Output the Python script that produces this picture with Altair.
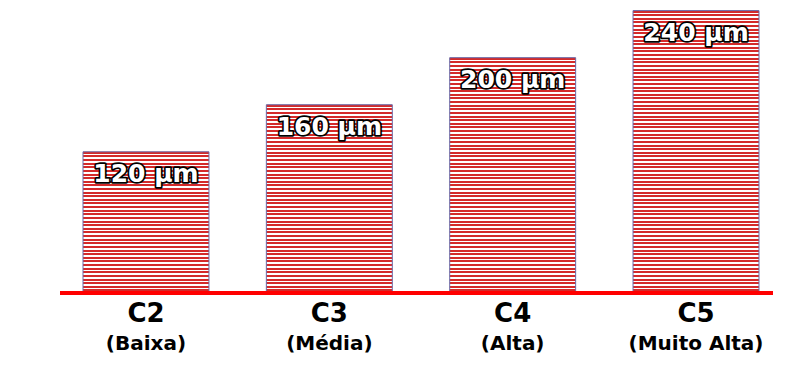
import altair as alt
import pandas as pd

categories = ["C2", "C3", "C4", "C5"]
subtitles = ["(Baixa)", "(Média)", "(Alta)", "(Muito Alta)"]
values = [120, 160, 200, 240]
value_labels = ["120 µm", "160 µm", "200 µm", "240 µm"]

df = pd.DataFrame({"cat": categories, "sub": subtitles, "val": values, "lab": value_labels})

W, H = 722, 293
YMAX = 249
FONT = "DejaVu Sans"
STRIPE_RED = "#d42a2a"
PERIOD = 3.6

xscale = alt.Scale(domain=categories, paddingInner=0.313, paddingOuter=0.1255)
yscale = alt.Scale(domain=[0, YMAX], nice=False, zero=True)
X = alt.X("cat:N", scale=xscale, axis=None)
Y = alt.Y("val:Q", scale=yscale, axis=None)


def stripes(px_height):
    n = max(1, round(px_height / PERIOD))
    stops = []
    for i in range(n):
        a = i / n
        b = (i + 0.55) / n
        c = (i + 1) / n
        stops += [
            alt.GradientStop(color=STRIPE_RED, offset=a),
            alt.GradientStop(color=STRIPE_RED, offset=b),
            alt.GradientStop(color="#ffffff", offset=b),
            alt.GradientStop(color="#ffffff", offset=c),
        ]
    return alt.Gradient(gradient="linear", stops=stops, x1=0, x2=0, y1=0, y2=1)


base = alt.Chart(df)

bar_layers = []
for c, v in zip(categories, values):
    bar_layers.append(
        base.transform_filter(alt.datum.cat == c)
        .mark_bar(fill=stripes(v * H / YMAX), stroke="#6a6aa8", strokeWidth=1)
        .encode(x=X, y=Y)
    )

label_outline = base.mark_text(
    font=FONT, fontSize=25, fontWeight="bold", baseline="alphabetic", dy=30,
    fill="black", stroke="black", strokeWidth=3.5, strokeJoin="round",
).encode(x=X, y=Y, text="lab:N")

label_fill = base.mark_text(
    font=FONT, fontSize=25, fontWeight="bold", baseline="alphabetic", dy=30,
    fill="white",
).encode(x=X, y=Y, text="lab:N")

baseline = base.mark_rule(color="#ff0000", strokeWidth=4).encode(
    y=alt.datum(0, scale=yscale), x=alt.value(0), x2=alt.value(713)
)

cat_text = base.mark_text(
    font=FONT, fontSize=26, fontWeight="bold", baseline="alphabetic", color="black"
).encode(x=X, y=alt.value(322), text="cat:N")

sub_text = base.mark_text(
    font=FONT, fontSize=20, fontWeight="bold", baseline="alphabetic", color="black"
).encode(x=X, y=alt.value(350), text="sub:N")

chart = (
    alt.layer(*bar_layers, label_outline, label_fill, baseline, cat_text, sub_text)
    .properties(
        width=W,
        height=H,
        autosize=alt.AutoSizeParams(type="none"),
        padding={"left": 60, "top": 0, "right": 18, "bottom": 80},
        background="white",
    )
    .configure_view(stroke=None)
)

chart.save("out.html", embed_options={"renderer": "svg", "actions": False})
